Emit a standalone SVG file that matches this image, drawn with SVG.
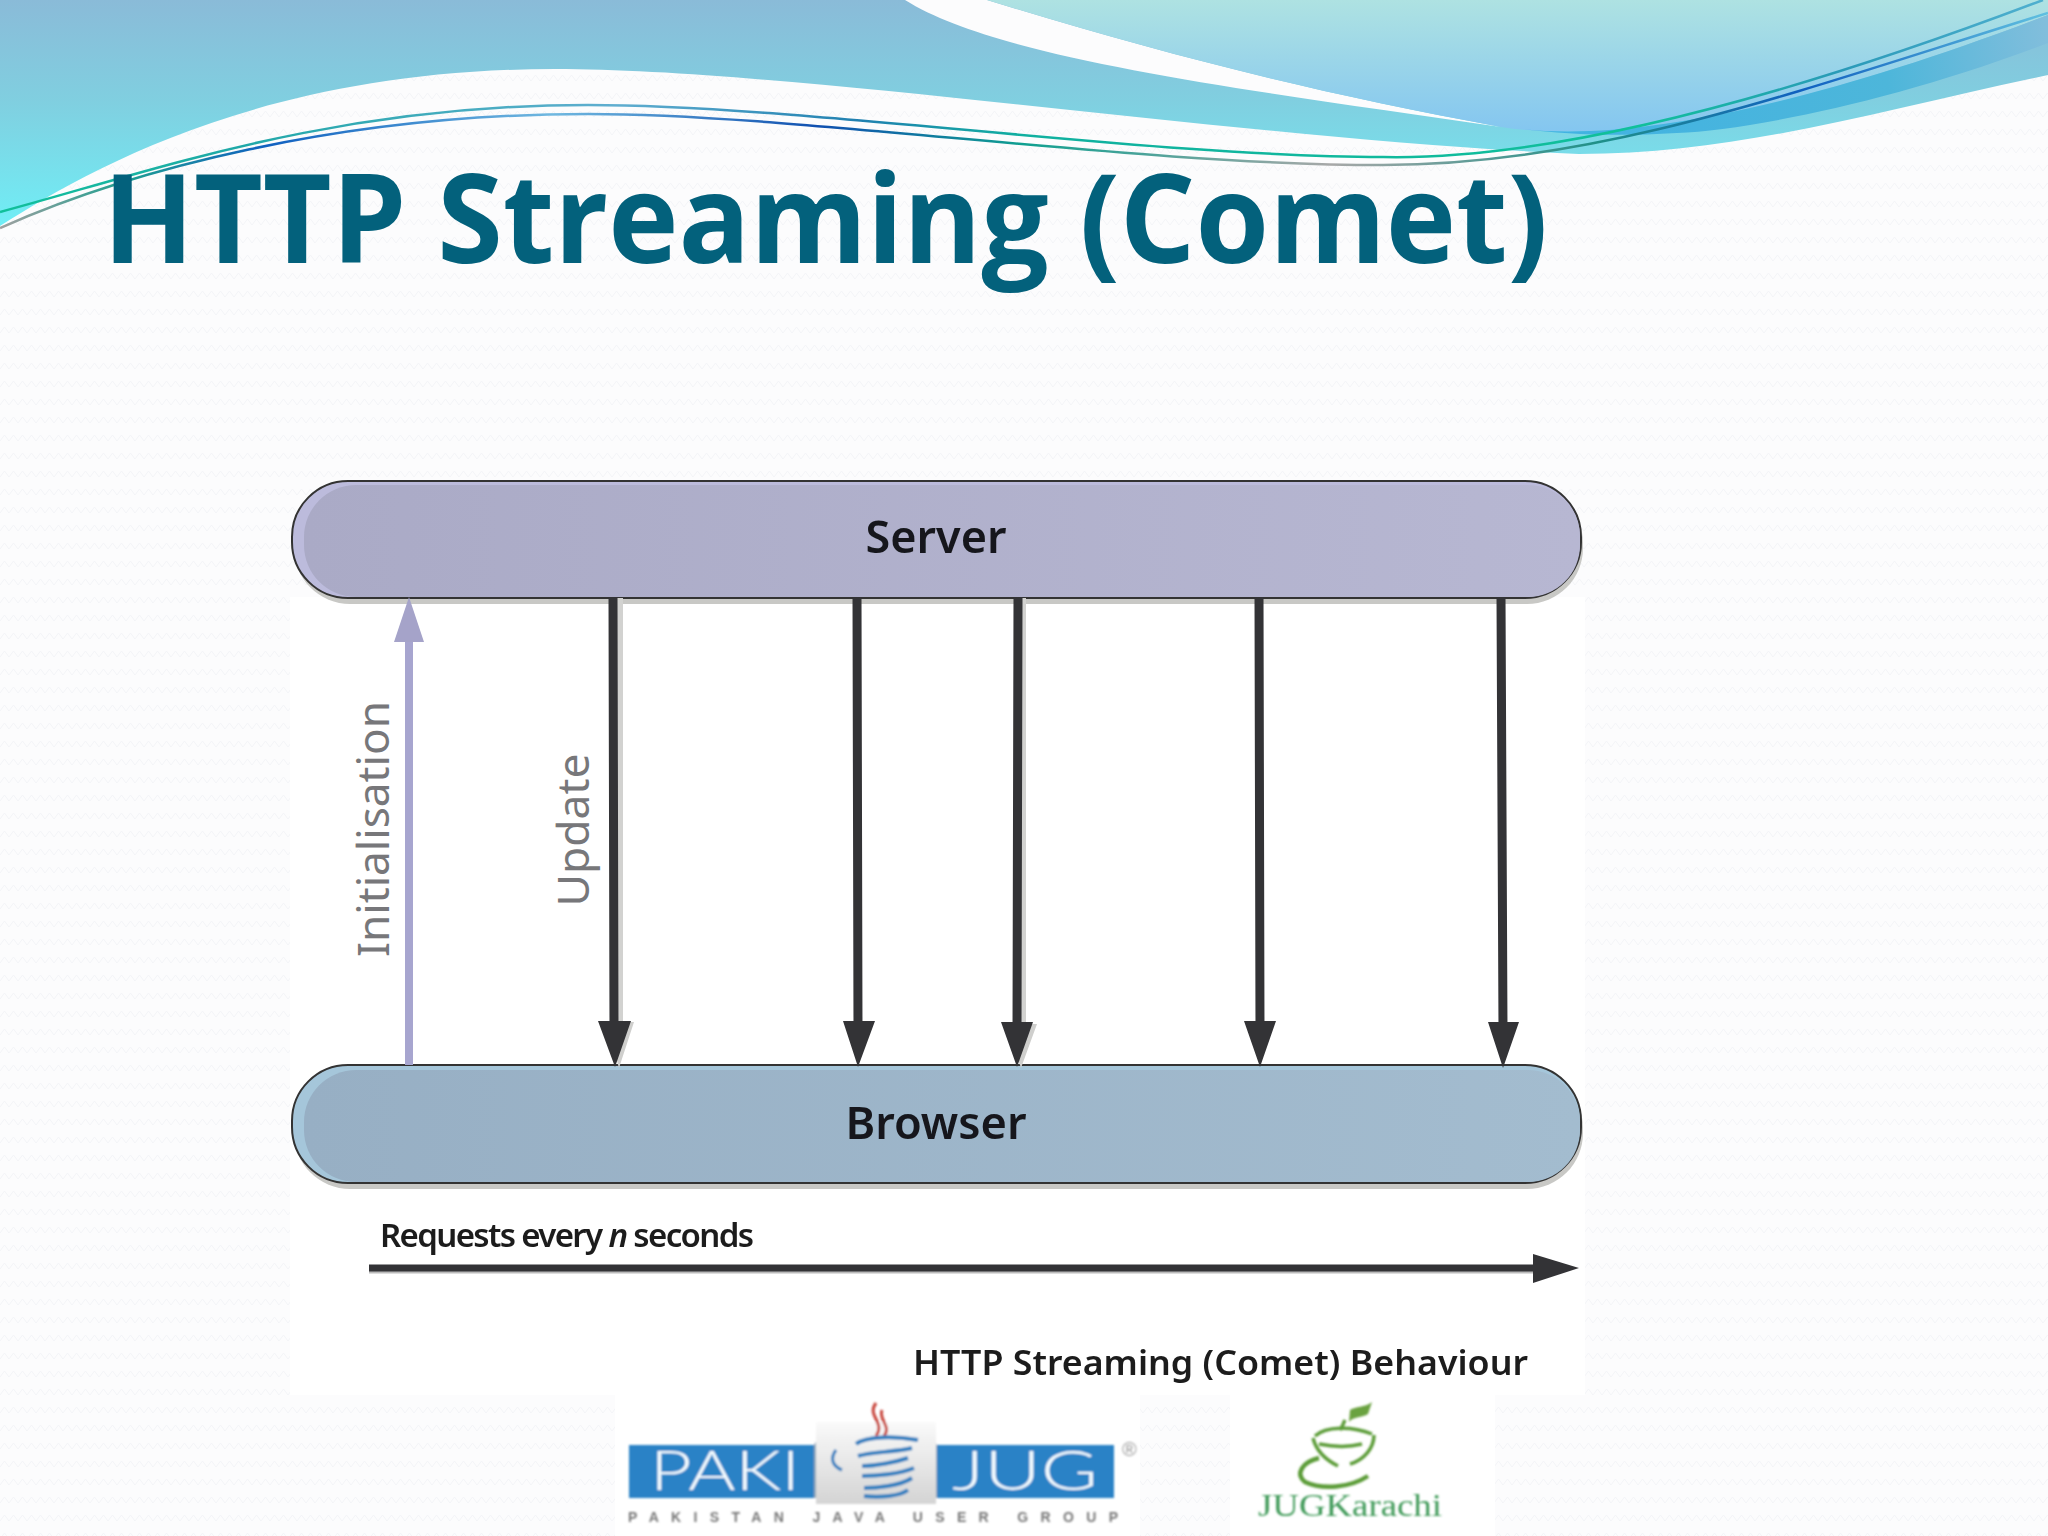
<svg xmlns="http://www.w3.org/2000/svg" width="2048" height="1536" viewBox="0 0 2048 1536">
<defs>
<pattern id="zig" width="18" height="18" patternUnits="userSpaceOnUse"><path d="M0 9L4.500 3L9 9L13.500 3L18 9" fill="none" stroke="#f3f4f7" stroke-width="1"/></pattern>
<linearGradient id="gWave" x1="0" y1="0" x2="0" y2="1"><stop offset="0" stop-color="#8abbd8"/><stop offset="0.45" stop-color="#80cfe0"/><stop offset="1" stop-color="#70eef6"/></linearGradient>
<linearGradient id="gLight" x1="0" y1="0" x2="0" y2="1"><stop offset="0" stop-color="#aee2e2"/><stop offset="1" stop-color="#84c6f0"/></linearGradient>
<linearGradient id="gBand" gradientUnits="userSpaceOnUse" x1="1500" y1="130" x2="2048" y2="30"><stop offset="0" stop-color="#3fb2e4"/><stop offset="0.7" stop-color="#4db6da"/><stop offset="1" stop-color="#82bedc"/></linearGradient>
<linearGradient id="gLineA" gradientUnits="userSpaceOnUse" x1="0" y1="0" x2="2048" y2="0"><stop offset="0" stop-color="#10c09a"/><stop offset="0.12" stop-color="#20a8a8"/><stop offset="0.3" stop-color="#60aed0"/><stop offset="0.42" stop-color="#2080b0"/><stop offset="0.5" stop-color="#10b0a0"/><stop offset="0.8" stop-color="#10c09a"/><stop offset="0.9" stop-color="#2a9ab8"/><stop offset="1" stop-color="#50b0d0"/></linearGradient>
<linearGradient id="gLineB" gradientUnits="userSpaceOnUse" x1="0" y1="0" x2="2048" y2="0"><stop offset="0" stop-color="#a0a0a0"/><stop offset="0.06" stop-color="#20a090"/><stop offset="0.13" stop-color="#1060c0"/><stop offset="0.27" stop-color="#70b8e0"/><stop offset="0.4" stop-color="#1050b0"/><stop offset="0.5" stop-color="#10a090"/><stop offset="0.65" stop-color="#a8a8a8"/><stop offset="0.78" stop-color="#209088"/><stop offset="0.88" stop-color="#1060c0"/><stop offset="1" stop-color="#60c0e0"/></linearGradient>
<linearGradient id="gServer" x1="0" y1="0" x2="1" y2="0"><stop offset="0" stop-color="#aaaac6"/><stop offset="1" stop-color="#b7b7d2"/></linearGradient>
<linearGradient id="gBrowser" x1="0" y1="0" x2="1" y2="0"><stop offset="0" stop-color="#97afc4"/><stop offset="1" stop-color="#a3bccf"/></linearGradient>
<linearGradient id="gCup" x1="0" y1="0" x2="0" y2="1"><stop offset="0" stop-color="#fafafa"/><stop offset="1" stop-color="#d4d4d4"/></linearGradient>
<filter id="soft" x="-5%" y="-5%" width="110%" height="110%"><feGaussianBlur stdDeviation="0.9"/></filter>
<filter id="softText" x="-2%" y="-10%" width="104%" height="120%"><feGaussianBlur stdDeviation="0.5"/></filter>
<style>
.nodeLabel{font-family:"Noto Sans","Open Sans",sans-serif;font-weight:600;font-size:45px;fill:#15181c;text-anchor:middle}
.side{font-family:"Noto Sans","Open Sans",sans-serif;font-size:44px;fill:#77777a;text-anchor:middle}
.cap{font-family:"Noto Sans","Open Sans",sans-serif;font-size:33px;font-weight:600;fill:#1c1c1c}
.edge{stroke:#333336;stroke-width:9;fill:none}
.edgeShadow{stroke:#d2d2d0;stroke-width:6;fill:none}
.head{fill:#333336}
.headShadow{fill:#cfcfcd}
.outline{stroke:#333;stroke-width:2}
</style>
</defs>
<rect width="2048" height="1536" fill="#fcfcfd"/>
<rect width="2048" height="1536" fill="url(#zig)"/>
<g id="waves">
<path fill="url(#gWave)" d="M0 226C85 172 260 69 555 69C800 69 1250 140 1579 154C1740 154 1880 110 2048 75L2048 0L0 0Z"/>
<path fill="#fcfcfd" d="M905 0C1000 60 1250 90 1501 127C1300 90 1150 50 987 0Z"/>
<path fill="url(#gLight)" d="M987 0C1150 50 1300 90 1501 127C1620 145 1800 110 2048 15L2048 0Z"/>
<path fill="url(#gBand)" d="M1514 128C1620 143 1800 110 2048 15L2048 43C1900 100 1750 130 1677 133C1610 137 1560 134 1514 128Z"/>
<path fill="none" stroke="url(#gLineA)" stroke-width="2.500" d="M0 212C150 172 330 105 588 105C800 105 1150 157 1383 157C1530 160 1740 115 2043 0"/>
<path fill="none" stroke="url(#gLineB)" stroke-width="2.500" d="M0 228C130 170 340 114 588 114C800 114 1130 165 1383 165C1600 165 1800 90 2048 13"/>
</g>
<text id="title" x="103" y="263" font-family="'Open Sans','Noto Sans',sans-serif" font-weight="700" font-size="123" fill="#03617c" textLength="1445" lengthAdjust="spacingAndGlyphs">HTTP Streaming (Comet)</text>
<rect id="figureBg" x="290" y="597" width="1295" height="798" fill="#ffffff"/>
<rect id="logoBg1" x="615" y="1395" width="525" height="141" fill="#ffffff"/>
<rect id="logoBg2" x="1230" y="1395" width="265" height="141" fill="#ffffff"/>
<g id="server">
<rect x="294" y="487" width="1289" height="117" rx="56" fill="#c8c8c5"/>
<rect x="292" y="481" width="1289" height="117" rx="56" fill="#bcbbdc" class="outline"/>
<rect x="304" y="485" width="1276" height="112" rx="52" fill="url(#gServer)"/>
<text class="nodeLabel" x="936" y="553" textLength="141" lengthAdjust="spacingAndGlyphs" filter="url(#softText)">Server</text>
</g>
<g id="browser">
<rect x="294" y="1072" width="1289" height="117" rx="56" fill="#c8c8c5"/>
<rect x="292" y="1065" width="1289" height="118" rx="56" fill="#a5c6da" class="outline"/>
<rect x="304" y="1070" width="1276" height="112" rx="52" fill="url(#gBrowser)"/>
<text class="nodeLabel" x="936" y="1139" textLength="181" lengthAdjust="spacingAndGlyphs" filter="url(#softText)">Browser</text>
</g>
<g id="connectors">
<path d="M409 1065V640" stroke="#a7a5cf" stroke-width="8" fill="none"/>
<path d="M409 597L424 642H394Z" fill="#a5a3c9"/>
<g id="updates">
<path class="edgeShadow" d="M620 598V1030M1023 598V1030"/>
<path class="headShadow" d="M619 1068L634 1022H606ZM1021 1068L1037 1024H1006Z"/>
<path class="edge" d="M613 597L614 1030M857 597L858 1030M1018 597L1017 1030M1259 597L1260 1030M1501 597L1503 1030"/>
<path class="head" d="M615 1067L598 1021H631ZM858 1067L843 1021H875ZM1017 1067L1001 1022H1033ZM1260 1067L1244 1021H1276ZM1503 1068L1488 1022H1519Z"/>
</g>
<g id="timeline">
<path d="M369 1270H1540" stroke="#bbb" stroke-width="7" fill="none"/>
<path d="M369 1268H1540" stroke="#333336" stroke-width="7" fill="none"/>
<path class="head" d="M1579 1268L1533 1254V1283Z"/>
</g>
</g>
<text class="side" transform="translate(389 829) rotate(-90)" textLength="256" lengthAdjust="spacingAndGlyphs">Initialisation</text>
<text class="side" transform="translate(589 830) rotate(-90)" textLength="153" lengthAdjust="spacingAndGlyphs">Update</text>
<text class="cap" x="380" y="1247" textLength="374" filter="url(#softText)">Requests every <tspan font-style="italic">n</tspan> seconds</text>
<text class="cap" x="913" y="1375" style="font-size:35px" textLength="615" lengthAdjust="spacingAndGlyphs" filter="url(#softText)">HTTP Streaming (Comet) Behaviour</text>
<g id="pakijug" filter="url(#soft)">
<path d="M814 1445L828 1422V1498H814Z" fill="#8aa6ba"/>
<path d="M937 1445L925 1422V1498H937Z" fill="#8aa6ba"/>
<rect x="816" y="1422" width="120" height="82" fill="url(#gCup)"/>
<rect x="629" y="1445" width="185" height="53" fill="#2b82c6"/>
<rect x="937" y="1445" width="177" height="53" fill="#2b82c6"/>
<text x="650" y="1490" font-family="Lato,'Liberation Sans',sans-serif" font-weight="300" font-size="56" fill="#f4fbff" textLength="150" lengthAdjust="spacingAndGlyphs">PAKI</text>
<text x="952" y="1490" font-family="Lato,'Liberation Sans',sans-serif" font-weight="300" font-size="56" fill="#f4fbff" textLength="146" lengthAdjust="spacingAndGlyphs">JUG</text>
<path d="M876 1403C866 1416 886 1422 876 1436M882 1410C878 1420 892 1426 884 1436" fill="none" stroke="#c8443a" stroke-width="3"/>
<g fill="none" stroke="#2c7fc0" stroke-width="4">
<path d="M856 1444C866 1436 895 1436 918 1440"/>
<path d="M858 1456C870 1452 896 1452 912 1448"/>
<path d="M862 1466C876 1466 896 1462 908 1458"/>
<path d="M862 1476C876 1476 900 1474 914 1468"/>
<path d="M864 1488C876 1488 900 1486 912 1478"/>
<path d="M864 1496C880 1498 900 1496 908 1490"/>
<path d="M836 1450C830 1458 832 1466 842 1470" stroke-width="3"/>
</g>
<text x="1122" y="1456" font-family="'Liberation Sans',sans-serif" font-size="20" fill="#999">®</text>
<text x="628" y="1522" font-family="'Liberation Sans',sans-serif" font-size="14" font-weight="700" fill="#777" textLength="490">PAKISTAN JAVA USER GROUP</text>
</g>
<g id="jugkarachi" filter="url(#soft)">
<path d="M1350 1410C1356 1406 1364 1408 1372 1402L1368 1414C1362 1418 1354 1416 1349 1422Z" fill="#6aa240"/>
<g fill="none" stroke="#5c9c38" stroke-width="3.500">
<path d="M1345 1420C1343 1424 1342 1428 1340 1430"/>
<path d="M1315 1436C1326 1426 1352 1426 1372 1434"/>
<path d="M1313 1438C1316 1450 1326 1460 1338 1466"/>
<path d="M1374 1435C1374 1448 1364 1460 1350 1464"/>
<path d="M1319 1444C1334 1447 1350 1447 1362 1444"/>
<path d="M1319 1458C1302 1462 1295 1474 1305 1482C1322 1490 1350 1488 1368 1476" stroke-width="4.500"/>
</g>
<text x="1258" y="1516" font-family="'Liberation Serif',serif" font-size="32" fill="#3f9a58" textLength="184" lengthAdjust="spacingAndGlyphs">JUGKarachi</text>
</g>
</svg>
